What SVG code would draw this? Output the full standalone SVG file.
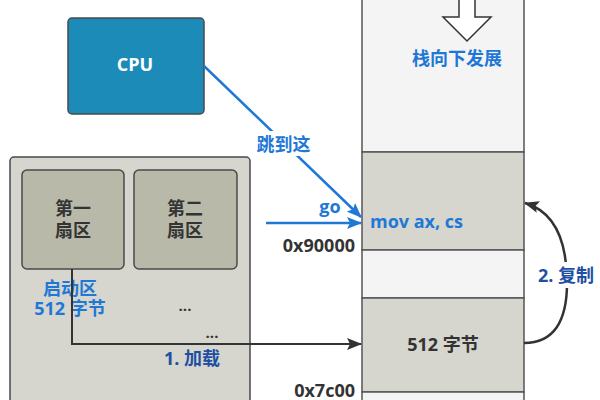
<svg xmlns="http://www.w3.org/2000/svg" width="600" height="400" viewBox="0 0 600 400">
<defs>
<style>
.t{font-family:"Open Sans","Noto Sans CJK SC",sans-serif;font-weight:bold;font-size:18px;}
.box{stroke:#4a4a4a;stroke-width:1.5;}
.mem{stroke:#555;stroke-width:1.5;}
.blue{fill:#1f78d6;}
.dblue{fill:#1e4fa3;}
.dark{fill:#333;}
</style>
<marker id="ab" viewBox="0 0 15 12" refX="14" refY="6" markerWidth="15" markerHeight="12" markerUnits="userSpaceOnUse" orient="auto"><path d="M0,0 L15,6 L0,12 L3,6 z" fill="#1f78d6"/></marker>
<marker id="ad" viewBox="0 0 15 12" refX="14" refY="6" markerWidth="15" markerHeight="12" markerUnits="userSpaceOnUse" orient="auto"><path d="M0,0 L15,6 L0,12 L3,6 z" fill="#333"/></marker>
</defs>
<rect width="600" height="400" fill="#fff"/>
<g id="memory">
<rect x="362" y="-2" width="162" height="154" fill="#f4f4f4" class="mem"/>
<rect x="362" y="152" width="162" height="98" fill="#d6d6ce" class="mem"/>
<rect x="362" y="250" width="162" height="48" fill="#f4f4f4" class="mem"/>
<rect x="362" y="298" width="162" height="94" fill="#d6d6ce" class="mem"/>
<rect x="362" y="392" width="162" height="12" fill="#f4f4f4" class="mem"/>
<polygon points="459,-2 475,-2 475,17 491,17 467,41 443,17 459,17" fill="#fff" stroke="#333" stroke-width="1.5"/>
<text x="457" y="65" text-anchor="middle" class="t blue">栈向下发展</text>
<text x="370" y="228" class="t blue">mov ax, cs</text>
<text x="443" y="351" text-anchor="middle" class="t dark">512 字节</text>
<text x="355" y="252" text-anchor="end" class="t dark">0x90000</text>
<text x="355" y="397" text-anchor="end" class="t dark">0x7c00</text>
</g>
<g id="cpu">
<rect x="68" y="18" width="136" height="96" rx="4" fill="#1d8bb7" class="box"/>
<text x="135" y="71" text-anchor="middle" class="t" fill="#fff">CPU</text>
</g>
<g id="disk">
<rect x="10" y="157" width="240" height="260" rx="4" fill="#d6d6ce" class="box"/>
</g>
<g id="sector1">
<rect x="22" y="170" width="102" height="99" rx="5" fill="#b9b9aa" class="box"/>
<text x="73" y="215" text-anchor="middle" class="t dark">第一</text>
<text x="73" y="237" text-anchor="middle" class="t dark">扇区</text>
</g>
<g id="sector2">
<rect x="134" y="170" width="103" height="99" rx="5" fill="#b9b9aa" class="box"/>
<text x="185" y="215" text-anchor="middle" class="t dark">第二</text>
<text x="185" y="237" text-anchor="middle" class="t dark">扇区</text>
</g>
<g id="labels">
<text x="70" y="295" text-anchor="middle" class="t blue">启动区</text>
<text x="70" y="315" text-anchor="middle" class="t blue">512 字节</text>
<text x="185" y="311" text-anchor="middle" class="t dark" style="font-size:15px">...</text>
<text x="212" y="338" text-anchor="middle" class="t dark" style="font-size:15px">...</text>
</g>
<g id="connectors" fill="none">
<path d="M204,66 L361,217" stroke="#1f78d6" stroke-width="2.5" marker-end="url(#ab)"/>
<path d="M266,223 H361" stroke="#1f78d6" stroke-width="2.5" marker-end="url(#ab)"/>
<path d="M72,269 V344 H361" stroke="#333" stroke-width="2" marker-end="url(#ad)"/>
<path d="M524,343 Q568,343 567,280 Q566,215 525,203" stroke="#333" stroke-width="2.5" marker-end="url(#ad)"/>
<rect x="254" y="131" width="59" height="25" fill="#fff"/>
<text x="283.5" y="151" text-anchor="middle" class="t blue">跳到这</text>
<text x="330" y="213" text-anchor="middle" class="t blue">go</text>
<rect x="536" y="262" width="60" height="26" fill="#fff"/>
<text x="566" y="282" text-anchor="middle" class="t dblue">2. 复制</text>
<text x="192" y="365" text-anchor="middle" class="t dblue">1. 加载</text>
</g>
</svg>
